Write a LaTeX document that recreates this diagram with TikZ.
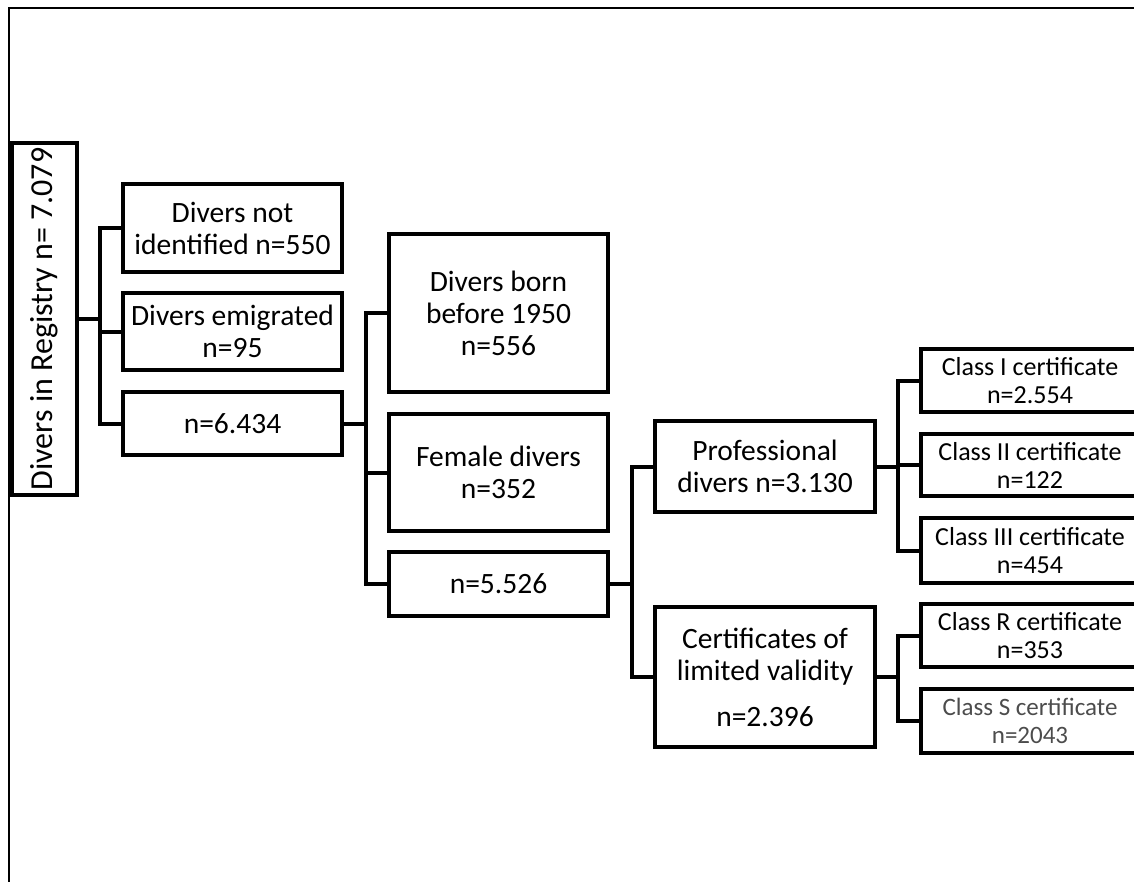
\documentclass[tikz,border=0pt]{standalone}
\usepackage{fontspec}
\setmainfont{Carlito}
\usetikzlibrary{calc}

\begin{document}
\begin{tikzpicture}[x=1pt,y=-1pt,
	box/.style={draw,line width=4pt,align=center,inner sep=2pt,minimum width=219,font=\fontsize{29.5}{32}\selectfont},
	cert/.style={box,minimum width=218,font=\fontsize{26}{28}\selectfont},
	elbow/.style={to path={-| ($(\tikztostart)!.5!(\tikztotarget)$) |- (\tikztotarget)}}]
	\useasboundingbox (0,0) rectangle (1134,881);
	\draw[line width=2.5pt] (9,895) -- (9,8) -- (1145,8);
	% registry and first split
	\node[box,rotate=90,minimum width=352,minimum height=65,font=\fontsize{32}{36}\selectfont] (reg) at (44.5,319) {Divers in Registry n= 7.079};
	\node[box,minimum height=88] (notid) at (232.5,228) {Divers not\\identified n=550};
	\node[box,minimum height=77] (emig) at (232.5,331.5) {Divers emigrated\\n=95};
	\node[box,minimum height=63] (rest1) at (232.5,423.5) {n=6.434};
	% second split
	\node[box,minimum height=158] (old) at (498.5,313) {Divers born\\before 1950\\n=556};
	\node[box,minimum height=117] (fem) at (498.5,472.5) {Female divers\\n=352};
	\node[box,minimum height=64] (rest2) at (498.5,584) {n=5.526};
	% third split
	\node[box,minimum width=220,minimum height=91] (prof) at (765,466.5) {Professional\\divers n=3.130};
	\node[box,minimum width=220,minimum height=140] (lim) at (765,677) {Certificates of\\limited validity\\[14pt]n=2.396};
	% certificates
	\node[cert,minimum height=63] (cI) at (1030,380.5) {Class I certificate\\n=2.554};
	\node[cert,minimum height=62] (cII) at (1030,465) {Class II certificate\\n=122};
	\node[cert,minimum height=65] (cIII) at (1030,550.5) {Class III certificate\\n=454};
	\node[cert,minimum height=63] (cR) at (1030,635.5) {Class R certificate\\n=353};
	\node[cert,minimum height=64,text=black!70,font=\fontsize{25}{28}\selectfont] (cS) at (1030,721) {Class S certificate\\n=2043};

	\path[draw,line width=4pt]
	(reg.south) edge[elbow] (notid.west)
	edge[elbow] (emig.west)
	edge[elbow] (rest1.west)
	(rest1.east) edge[elbow] (old.west)
	edge[elbow] (fem.west)
	edge[elbow] (rest2.west)
	(rest2.east) edge[elbow] (prof.west)
	edge[elbow] (lim.west)
	(prof.east) edge[elbow] (cI.west)
	edge[elbow] (cII.west)
	edge[elbow] (cIII.west)
	(lim.east) edge[elbow] (cR.west)
	edge[elbow] (cS.west);
\end{tikzpicture}
\end{document}
